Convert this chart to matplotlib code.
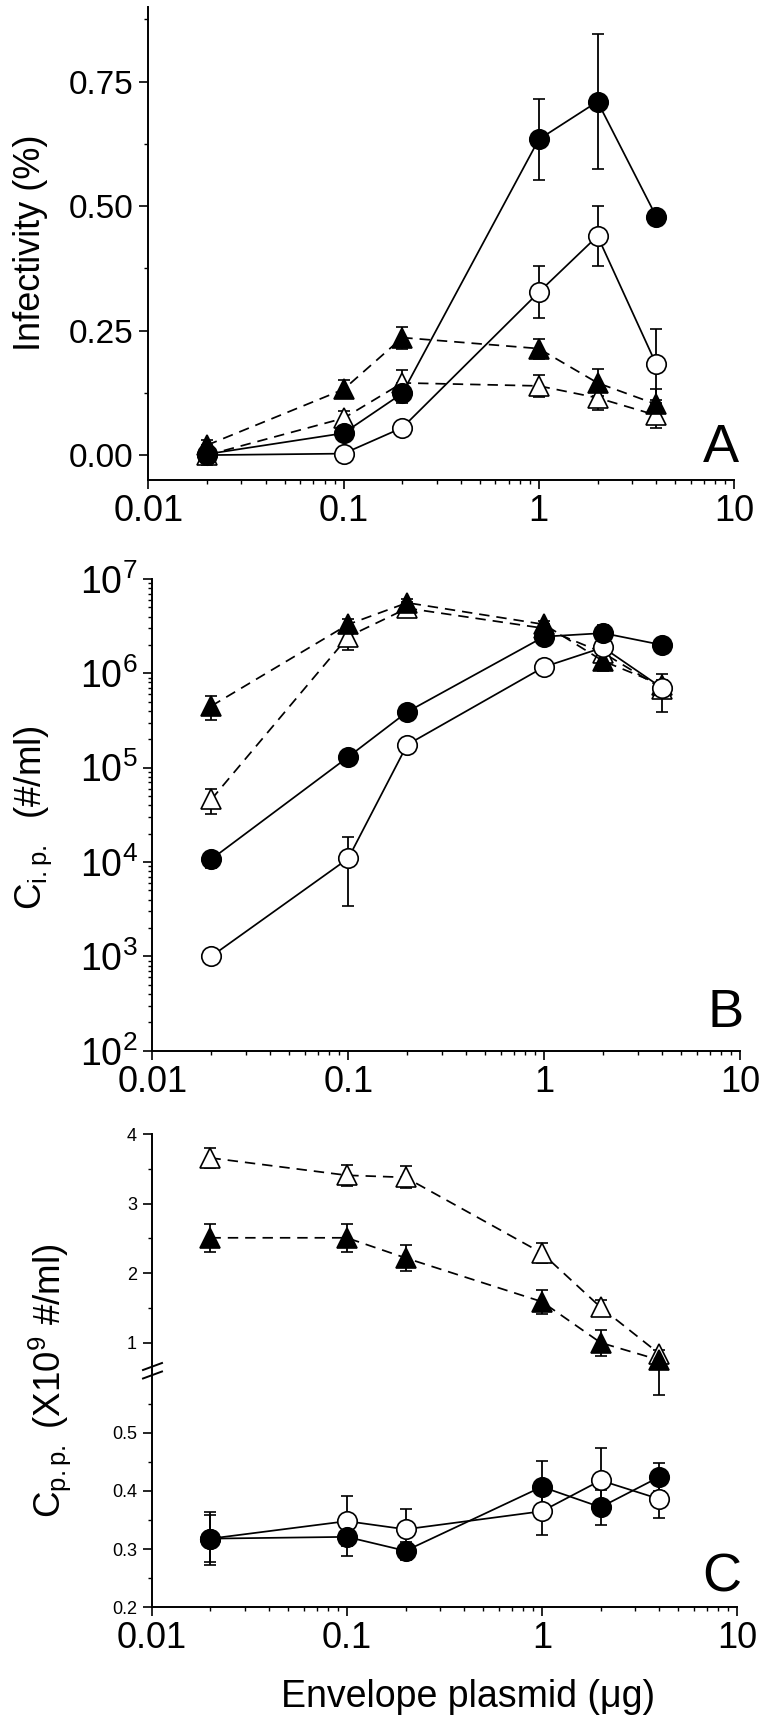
import matplotlib
matplotlib.use('Agg')
import matplotlib.pyplot as plt
from matplotlib.lines import Line2D
from matplotlib.ticker import FixedLocator, FixedFormatter, LogLocator, NullFormatter, FormatStrFormatter

plt.rcParams['font.family'] = ['Liberation Sans', 'DejaVu Sans']
plt.rcParams['mathtext.fontset'] = 'custom'
plt.rcParams['mathtext.rm'] = 'Liberation Sans'
plt.rcParams['mathtext.it'] = 'Liberation Sans:italic'

W, H = 764, 1719

# envelope plasmid amounts (ug)
plasmid = [0.02, 0.1, 0.2, 1, 2, 4]

# panel A: infectivity (%)
inf_fc = [0.002, 0.044, 0.124, 0.634, 0.710, 0.479]
inf_fc_err = [0.005, 0.008, 0.020, 0.082, 0.135, 0.0]
inf_oc = [0.0, 0.003, 0.055, 0.327, 0.440, 0.182]
inf_oc_err = [0.003, 0.010, 0.012, 0.052, 0.061, 0.072]
inf_ft = [0.020, 0.132, 0.236, 0.214, 0.145, 0.102]
inf_ft_err = [0.010, 0.018, 0.022, 0.020, 0.027, 0.030]
inf_ot = [0.0, 0.074, 0.145, 0.139, 0.115, 0.080]
inf_ot_err = [0.020, 0.015, 0.025, 0.022, 0.025, 0.025]

# panel B: infectious particles (#/ml)
cip_fc = [1.07e4, 1.3e5, 3.9e5, 2.45e6, 2.67e6, 2.0e6]
cip_fc_err = [2e3, 1e4, 4e4, 3e5, 6e5, 1.5e5]
cip_oc = [1.0e3, 1.09e4, 1.75e5, 1.17e6, 1.88e6, 7.0e5]
cip_oc_err = [0, 7.5e3, 3.2e4, 1.7e5, 2.5e5, 0]
cip_ft = [4.5e5, 3.3e6, 5.6e6, 3.3e6, 1.35e6, 7.5e5]
cip_ft_err = [1.3e5, 5e5, 6e5, 3e5, 3e5, 1e5]
cip_ot = [4.6e4, 2.45e6, 4.9e6, 3.0e6, 1.65e6, 6.9e5]
cip_ot_err = [1.4e4, 7e5, 8e5, 3e5, 3e5, 3e5]

# panel C: physical particles (x10^9 #/ml)
cpp_ot = [3.66, 3.41, 3.38, 2.29, 1.51, 0.84]
cpp_ot_err = [0.14, 0.15, 0.16, 0.14, 0.10, 0.05]
cpp_ft = [2.51, 2.51, 2.22, 1.59, 1.00, 0.75]
cpp_ft_lo = [0.20, 0.20, 0.19, 0.18, 0.19, 0.50]  # last one runs across the axis break
cpp_ft_hi = [0.20, 0.20, 0.19, 0.17, 0.19, 0.05]
cpp_oc = [0.318, 0.348, 0.334, 0.365, 0.418, 0.386]
cpp_oc_err = [0.045, 0.043, 0.035, 0.040, 0.056, 0.033]
cpp_fc = [0.318, 0.321, 0.297, 0.407, 0.372, 0.424]
cpp_fc_err = [0.040, 0.033, 0.016, 0.045, 0.030, 0.024]

DASH = (0, (6, 4))
LW = 1.25
MS = 14


def px_axes(fig, left, top, right, bottom):
    return fig.add_axes([left / W, 1 - bottom / H, (right - left) / W, (bottom - top) / H])


def series(ax, y, err, marker, filled, dashed, clip=True):
    cont = ax.errorbar(plasmid, y, yerr=err, color='black', lw=LW,
                       ls=DASH if dashed else '-',
                       marker=marker, ms=MS if marker == 'o' else MS + 1,
                       mfc='black' if filled else 'white', mec='black', mew=1.2,
                       elinewidth=1.3, capsize=4.5, capthick=1.3, clip_on=clip)
    if not clip:
        for art in list(cont.lines[1]) + list(cont.lines[2]):
            art.set_clip_on(False)
    return cont


def style(ax, ylabelsize):
    for s in ['top', 'right']:
        ax.spines[s].set_visible(False)
    for s in ['left', 'bottom']:
        ax.spines[s].set_linewidth(1.4)
    ax.tick_params(which='major', direction='out', length=6.5, width=1.2)
    ax.tick_params(which='minor', direction='out', length=3.2, width=1.0)
    ax.tick_params(axis='y', labelsize=ylabelsize, pad=4)
    ax.tick_params(axis='x', labelsize=26, pad=3.5)


def log_x(ax):
    ax.set_xscale('log')
    ax.set_xlim(0.01, 10)
    ax.xaxis.set_major_locator(FixedLocator([0.01, 0.1, 1, 10]))
    ax.xaxis.set_major_formatter(FixedFormatter(['0.01', '0.1', '1', '10']))
    ax.xaxis.set_minor_locator(LogLocator(base=10, subs=range(2, 10)))
    ax.xaxis.set_minor_formatter(NullFormatter())


fig = plt.figure(figsize=(W / 100, H / 100), dpi=100)

# ---- A ----
axA = px_axes(fig, 148.3, 7, 734, 480)
series(axA, inf_ot, inf_ot_err, '^', False, True)
series(axA, inf_ft, inf_ft_err, '^', True, True)
series(axA, inf_oc, inf_oc_err, 'o', False, False)
series(axA, inf_fc, inf_fc_err, 'o', True, False)
log_x(axA)
axA.set_ylim(-0.05, 0.90)
axA.yaxis.set_major_locator(FixedLocator([0, 0.25, 0.5, 0.75]))
axA.yaxis.set_minor_locator(FixedLocator([0.125, 0.375, 0.625, 0.875]))
axA.yaxis.set_major_formatter(FormatStrFormatter('%.2f'))
style(axA, 24)
fig.text(31 / W, 1 - 243 / H, 'Infectivity (%)', rotation=90, ha='center', va='center', fontsize=26)
fig.text(721 / W, 1 - 462 / H, 'A', ha='center', va='baseline', fontsize=39)

# ---- B ----
axB = px_axes(fig, 152.3, 579, 740, 1050.7)
series(axB, cip_ot, cip_ot_err, '^', False, True)
series(axB, cip_ft, cip_ft_err, '^', True, True)
series(axB, cip_oc, cip_oc_err, 'o', False, False)
series(axB, cip_fc, cip_fc_err, 'o', True, False)
log_x(axB)
axB.set_yscale('log')
axB.set_ylim(1e2, 1e7)
axB.yaxis.set_major_locator(LogLocator(base=10, numticks=10))
axB.yaxis.set_minor_locator(LogLocator(base=10, subs=range(2, 10), numticks=20))
axB.yaxis.set_minor_formatter(NullFormatter())
style(axB, 27)
fig.text(33 / W, 1 - 818 / H, r'C$_{\mathrm{i.p.}}$  (#/ml)', rotation=90, ha='center', va='center', fontsize=26.5)
fig.text(726 / W, 1 - 1027 / H, 'B', ha='center', va='baseline', fontsize=39)

# ---- C (broken y axis) ----
axCu = px_axes(fig, 151.7, 1134.3, 737, 1370)
axCl = px_axes(fig, 151.7, 1370, 737, 1607.3)
axCl.patch.set_visible(False)
axCu.set_zorder(3)
axCu.patch.set_visible(False)
series(axCu, cpp_ot, cpp_ot_err, '^', False, True)
series(axCu, cpp_ft, [cpp_ft_lo, cpp_ft_hi], '^', True, True, clip=False)
series(axCl, cpp_oc, cpp_oc_err, 'o', False, False)
series(axCl, cpp_fc, cpp_fc_err, 'o', True, False)
for ax in (axCu, axCl):
    log_x(ax)
axCu.set_ylim(0.607, 4.0)
axCu.yaxis.set_major_locator(FixedLocator([1, 2, 3, 4]))
axCu.yaxis.set_minor_locator(FixedLocator([1.5, 2.5, 3.5]))
axCu.yaxis.set_major_formatter(FormatStrFormatter('%d'))
axCl.set_ylim(0.2, 0.6077)
axCl.yaxis.set_major_locator(FixedLocator([0.2, 0.3, 0.4, 0.5]))
axCl.yaxis.set_minor_locator(FixedLocator([0.25, 0.35, 0.45, 0.55]))
axCl.yaxis.set_major_formatter(FormatStrFormatter('%.1f'))
style(axCu, 13)
style(axCl, 13)
axCu.spines['bottom'].set_visible(False)
axCu.tick_params(axis='x', which='both', bottom=False, labelbottom=False)

# break marks on the y axis
for yb in (1366.5, 1375):
    fig.add_artist(Line2D([143 / W, 162 / W], [1 - (yb + 3.5) / H, 1 - (yb - 3.5) / H],
                          transform=fig.transFigure, color='black', lw=1.4))

fig.text(50 / W, 1 - 1381 / H, r'C$_{\mathrm{p.p.}}$ (X10$^{9}$ #/ml)', rotation=90,
         ha='center', va='center', fontsize=26.5)
fig.text(722 / W, 1 - 1591 / H, 'C', ha='center', va='baseline', fontsize=39)
fig.text(468 / W, 1 - 1697 / H, 'Envelope plasmid (\u03bcg)', ha='center', va='center', fontsize=27)

fig.savefig('out.png', dpi=100)
